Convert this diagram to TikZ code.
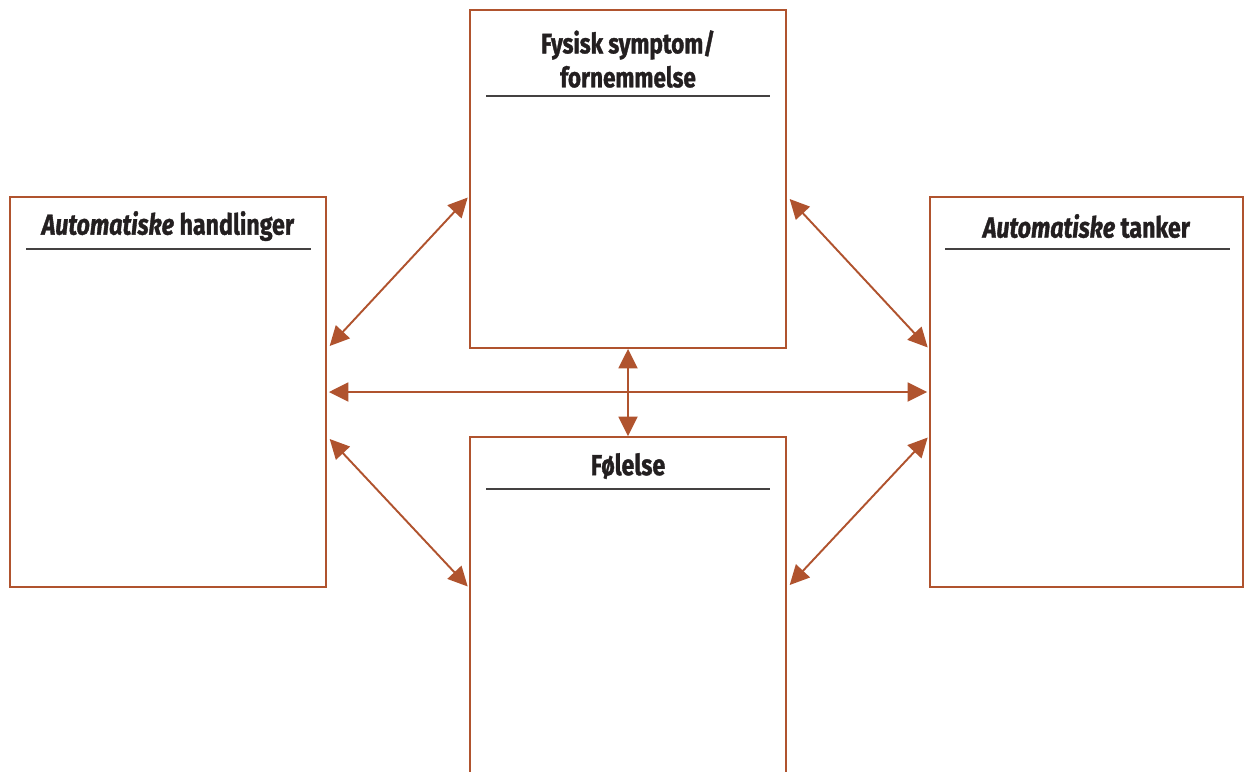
\documentclass[tikz,border=0pt]{standalone}
\usepackage{fontspec}
\setmainfont{Fira Sans}[FakeStretch=0.8,BoldFeatures={FakeBold=1.2},BoldItalicFeatures={FakeBold=1.2}]
\usetikzlibrary{arrows.meta,positioning,calc}
\definecolor{rust}{HTML}{B0532E}
\definecolor{ink}{HTML}{231F20}

\begin{document}
\begin{tikzpicture}[x=0.02cm,y=-0.02cm,
    panel/.style={rectangle,draw=rust,line width=1.1pt,inner sep=0pt,minimum width=6.32cm},
    ttl/.style={font=\fontsize{16.5}{20}\selectfont\bfseries,text=ink,align=center,inner sep=0pt},
    rule/.style={draw=ink!85,line width=0.7pt},
    arr/.style={{Triangle[length=3.9mm,width=3.8mm]}-{Triangle[length=3.9mm,width=3.8mm]},draw=rust,fill=rust,line width=1.1pt},
]
\useasboundingbox (0,0) rectangle (1246,771);
\clip (0,0) rectangle (1246,771);

% Boxes
\node[panel,minimum height=7.8cm] (hand) at (168,392) {};
\node[panel,minimum height=6.76cm] (symp) at (628,179) {};
\node[panel,minimum height=7.8cm,minimum width=6.26cm] (tank) at (1086.5,392) {};
\node[panel,minimum height=6.76cm] (fol) at (628,606) {};

% Titles
\node[ttl] (handt) at ($(hand.north)+(0,30)$) {\textit{Automatiske} handlinger};
\node[ttl,font=\fontsize{16}{19.3}\selectfont\bfseries] (sympt) at ($(symp.north)+(0,50)$) {Fysisk symptom/\\fornemmelse};
\node[ttl] (tankt) at ($(tank.north)+(0,30)$) {\textit{Automatiske} tanker};
\node[ttl] (folt) at ($(fol.north)+(0,30)$) {Følelse};

% Rules under titles
\draw[rule] ($(hand.north west)+(17,53)$) -- ($(hand.north east)+(-16,53)$);
\draw[rule] ($(symp.north west)+(17,87)$) -- ($(symp.north east)+(-17,87)$);
\draw[rule] ($(tank.north west)+(16,53)$) -- ($(tank.north east)+(-14,53)$);
\draw[rule] ($(fol.north west)+(17,53)$) -- ($(fol.north east)+(-17,53)$);

% Arrows
\draw[arr,shorten <=0.8mm,shorten >=0.4mm] (hand.east |- symp.south) -- (symp.west |- hand.north);
\draw[arr,shorten <=0.8mm,shorten >=0.4mm] (symp.east |- tank.north) -- (tank.west |- symp.south);
\draw[arr,shorten <=0.8mm,shorten >=0.4mm] (hand.east |- fol.north) -- (fol.west |- hand.south);
\draw[arr,shorten <=0.8mm,shorten >=0.4mm] (fol.east |- tank.south) -- (tank.west |- fol.north);
\draw[arr,shorten <=0.4mm,shorten >=0.4mm] (hand.east) -- (tank.west);
\draw[arr] (symp.south) -- (fol.north);
\end{tikzpicture}
\end{document}
